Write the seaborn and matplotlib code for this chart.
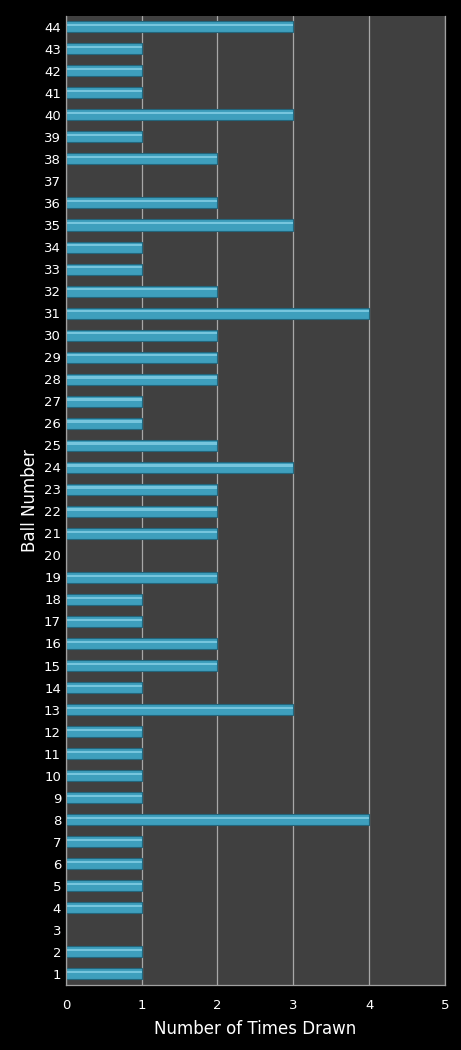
import numpy as np
import pandas as pd
import matplotlib
matplotlib.use("Agg")
import matplotlib.pyplot as plt
import seaborn as sns

# ball numbers and how often each was drawn
balls = list(range(1, 45))
times_drawn = [1, 1, 0, 1, 1, 1, 1, 4, 1, 1,
               1, 1, 3, 1, 2, 2, 1, 1, 2, 0,
               2, 2, 2, 3, 2, 1, 1, 2, 2, 2,
               4, 2, 1, 1, 3, 2, 0, 2, 1, 3,
               1, 1, 1, 3]
x_ticks = [0, 1, 2, 3, 4, 5]

df = pd.DataFrame({"ball": [str(b) for b in balls], "count": times_drawn})
order = [str(b) for b in reversed(balls)]

sns.set_style("dark")
plt.rcParams["font.family"] = ["DejaVu Sans"]

fig = plt.figure(figsize=(4.61, 10.5), dpi=100, facecolor="black")
ax = fig.add_axes([0.143, 0.062, 0.822, 0.923])
ax.set_facecolor("#404040")

sns.barplot(data=df, x="count", y="ball", order=order, orient="h",
            color="#3e9fbd", width=0.5, edgecolor="#23667c", linewidth=0.8,
            saturation=1, ax=ax)
n_main = len(ax.patches)
# lighter sheen along the top of each bar
sns.barplot(data=df, x="count", y="ball", order=order, orient="h",
            color="#8fd6ec", width=0.1, linewidth=0, saturation=1,
            alpha=0.7, ax=ax)
for p in ax.patches[n_main:]:
    p.set_y(p.get_y() - 0.08)

ax.set_xlim(0, 5)
ax.set_xticks(x_ticks)
ax.grid(axis="x", color="#a8a8a8", linewidth=0.9)
ax.grid(axis="y", visible=False)
ax.set_axisbelow(True)
for s in ax.spines.values():
    s.set_visible(True)
    s.set_color("#a0a0a0")
    s.set_linewidth(0.9)
ax.spines["top"].set_visible(False)

ax.tick_params(axis="both", colors="white", labelsize=9.5, length=0)
ax.tick_params(axis="x", pad=10)
ax.set_xlabel("Number of Times Drawn", color="white", fontsize=12, labelpad=6)
ax.set_ylabel("Ball Number", color="white", fontsize=12, labelpad=4)

fig.savefig("out.png", dpi=100, facecolor="black")
